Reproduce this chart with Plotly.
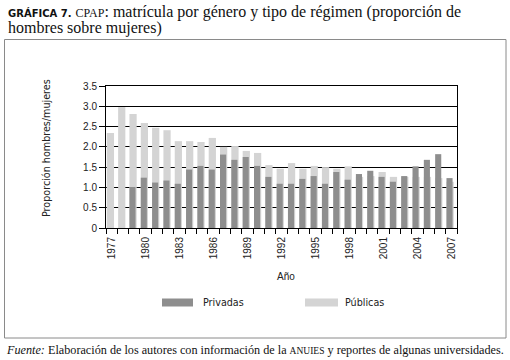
import plotly.graph_objects as go

years = list(range(1977, 2008))
privadas = [0, 0, 1.01, 1.24, 1.12, 1.17, 1.09, 1.44, 1.53, 1.44, 1.81, 1.68, 1.75, 1.53,
            1.26, 1.09, 1.09, 1.21, 1.28, 1.09, 1.38, 1.19, 1.33, 1.41, 1.26, 1.14, 1.28,
            1.52, 1.68, 1.82, 1.23]
publicas = [2.34, 2.98, 2.81, 2.59, 2.47, 2.41, 2.14, 2.14, 2.12, 2.22, 2.00, 2.02, 1.90, 1.85,
            1.55, 1.46, 1.60, 1.46, 1.53, 1.50, 1.46, 1.52, 1.26, 1.28, 1.38, 1.26, 1.26,
            1.26, 1.26, 1.23, 1.14]
year_ticks = list(range(1977, 2008, 3))
y_ticks = [0, 0.5, 1.0, 1.5, 2.0, 2.5, 3.0, 3.5]
y_labels = ["0", "0.5", "1.0", "1.5", "2.0", "2.5", "3.0", "3.5"]

DARK = "#8e8e8e"
LIGHT = "#d4d4d4"

W, H = 510, 360
L, R, T, B = 106, 457, 86, 228

def px(x):
    return (x - L) / (R - L)

def py(y):
    return (B - y) / (B - T)

fig = go.Figure()
fig.add_trace(go.Bar(x=years, y=publicas, name="Públicas", marker_color=LIGHT,
                     marker_line_width=0, width=0.64, offset=-0.43, showlegend=False))
fig.add_trace(go.Bar(x=years, y=privadas, name="Privadas", marker_color=DARK,
                     marker_line_width=0, width=0.54, offset=-0.43, showlegend=False))

tickfont = dict(family="Liberation Sans, Arial, sans-serif", size=10, color="#222")
fig.update_layout(
    width=W, height=H, barmode="overlay",
    margin=dict(l=L, r=W - R, t=T, b=H - B),
    paper_bgcolor="white", plot_bgcolor="white",
    xaxis=dict(range=[1976.5, 2007.5], tickmode="array", tickvals=year_ticks,
               ticktext=[str(y) for y in year_ticks], tickangle=-90, ticks="",
               ticklabelstandoff=4,
               showline=True, linecolor="black", linewidth=1, mirror=True,
               showgrid=False, zeroline=False, tickfont=tickfont,
               minor=dict(ticks="outside", tick0=1976.5, dtick=1, ticklen=5,
                          tickcolor="black", tickwidth=1, showgrid=False)),
    yaxis=dict(range=[0, 3.5], tickmode="array", tickvals=y_ticks, ticktext=y_labels,
               ticks="outside", ticklen=6, tickcolor="black",
               showline=True, linecolor="black", linewidth=1, mirror=True,
               showgrid=True, gridcolor="black", gridwidth=1.3, zeroline=False,
               tickfont=tickfont),
)

serif = "Liberation Serif, Times New Roman, serif"
sans = "DejaVu Sans, sans-serif"
ann = []
ann.append(dict(x=px(6), y=py(12), xref="paper", yref="paper", xanchor="left", yanchor="middle",
                showarrow=False, font=dict(family=serif, size=16, color="#111"),
                text="<span style='font-family:DejaVu Sans;font-size:10px;font-weight:bold'>GRÁFICA 7.</span> "
                     "<span style='font-size:12px'>CPAP</span>: matrícula por género y tipo de régimen (proporción de"))
ann.append(dict(x=px(6), y=py(28), xref="paper", yref="paper", xanchor="left", yanchor="middle",
                showarrow=False, font=dict(family=serif, size=16, color="#111"),
                text="hombres sobre mujeres)"))
ann.append(dict(x=px(4), y=py(350), xref="paper", yref="paper", xanchor="left", yanchor="middle",
                showarrow=False, font=dict(family=serif, size=12.2, color="#111"),
                text="<i>Fuente:</i> Elaboración de los autores con información de la "
                     "<span style='font-size:9.5px'>ANUIES</span> y reportes de algunas universidades."))
ann.append(dict(x=px(46), y=py(148), xref="paper", yref="paper", xanchor="center", yanchor="middle",
                showarrow=False, textangle=-90, font=dict(family=sans, size=9.6, color="#222"),
                text="Proporción hombres/mujeres"))
ann.append(dict(x=px(286), y=py(276), xref="paper", yref="paper", xanchor="center", yanchor="middle",
                showarrow=False, font=dict(family="Liberation Sans, Arial", size=10, color="#222"),
                text="Año"))
# legend
ann.append(dict(x=px(201), y=py(302), xref="paper", yref="paper", xanchor="left", yanchor="middle",
                showarrow=False, font=dict(family=sans, size=9.6, color="#222"), text="Privadas"))
ann.append(dict(x=px(343), y=py(302), xref="paper", yref="paper", xanchor="left", yanchor="middle",
                showarrow=False, font=dict(family=sans, size=9.6, color="#222"), text="Públicas"))

shapes = []
shapes.append(dict(type="rect", xref="paper", yref="paper", x0=px(162), x1=px(193),
                   y0=py(306.5), y1=py(298.5), fillcolor=DARK, line_width=0))
shapes.append(dict(type="rect", xref="paper", yref="paper", x0=px(305), x1=px(338),
                   y0=py(306.5), y1=py(298.5), fillcolor=LIGHT, line_width=0))
shapes.append(dict(type="rect", xref="paper", yref="paper", x0=px(4.5), x1=px(506),
                   y0=py(338), y1=py(39.5), line=dict(color="#8a8a8a", width=1),
                   fillcolor="rgba(0,0,0,0)", layer="below"))

fig.update_layout(annotations=ann, shapes=shapes)
fig.write_html("out.html")
